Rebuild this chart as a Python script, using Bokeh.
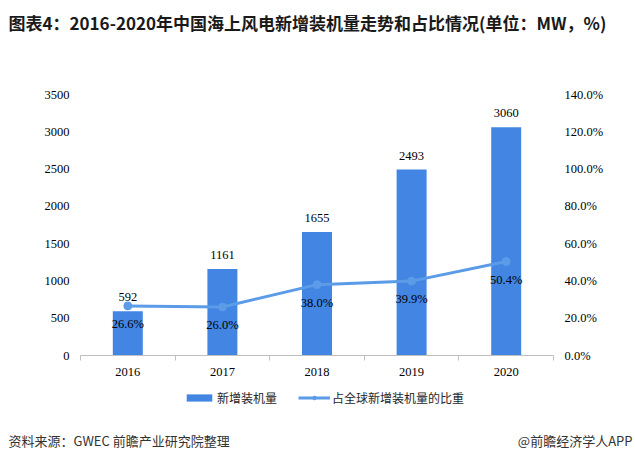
from bokeh.plotting import figure
from bokeh.models import (Range1d, LinearAxis, FixedTicker, NumeralTickFormatter,
                          Legend, LegendItem, ColumnDataSource, Label)
from bokeh.embed import file_html
from bokeh.resources import INLINE
from bokeh.core.properties import value

# ---- data ----
years = ["2016", "2017", "2018", "2019", "2020"]
new_capacity = [592, 1161, 1655, 2493, 3060]          # MW
global_share = [0.266, 0.260, 0.380, 0.399, 0.504]    # share of global new capacity
left_ticks = [0, 500, 1000, 1500, 2000, 2500, 3000, 3500]
right_ticks = [0.0, 0.2, 0.4, 0.6, 0.8, 1.0, 1.2, 1.4]

title_text = "图表4：2016-2020年中国海上风电新增装机量走势和占比情况(单位：MW，%)"
source_text = "资料来源：GWEC 前瞻产业研究院整理"
brand_text = "@前瞻经济学人APP"
bar_name = "新增装机量"
line_name = "占全球新增装机量的比重"

BAR_COLOR = "#4285E2"
LINE_COLOR = "#5B9BE8"
SERIF = "Liberation Serif"
CJK = "Noto Sans CJK SC"

# ---- geometry (pixels) : the frame fills the canvas, the plotting box sits inside ----
W, H = 635, 461
BOX_L, BOX_R, BOX_T, BOX_B = 80, 553, 94, 355
n = len(years)
ymax, pmax = left_ticks[-1], right_ticks[-1]


def span(lo_px, hi_px, a, b, total):
    per = (b - a) / (hi_px - lo_px)
    return Range1d(a - lo_px * per, b + (total - hi_px) * per)


xr = span(BOX_L, BOX_R, 0, n, W)
yr = span(H - BOX_B, H - BOX_T, 0, ymax, H)
pr = span(H - BOX_B, H - BOX_T, 0, pmax, H)

xpos = [i + 0.5 for i in range(n)]
src = ColumnDataSource(dict(
    x=xpos, cap=new_capacity, share=global_share,
    cap_lbl=[str(v) for v in new_capacity],
    share_lbl=["%.1f%%" % (v * 100) for v in global_share],
))

p = figure(width=W, height=H, output_backend="svg", toolbar_location=None,
           x_range=xr, y_range=yr, min_border=0,
           y_axis_location=None, x_axis_location=None)
p.outline_line_color = None
p.background_fill_color = "white"
p.border_fill_color = "white"
p.grid.visible = False
p.extra_y_ranges = {"pct": pr}

# bottom axis at y=0: labels at centres, small ticks at category boundaries
xa = LinearAxis(ticker=FixedTicker(ticks=xpos, minor_ticks=list(range(n + 1))),
                major_label_overrides={x: y for x, y in zip(xpos, years)},
                fixed_location=0, bounds=(0, n))
xa.axis_line_color = "#BFBFBF"
xa.major_tick_line_color = None
xa.major_tick_in = 0
xa.major_tick_out = 0
xa.minor_tick_line_color = "#BFBFBF"
xa.minor_tick_in = 0
xa.minor_tick_out = 5
xa.major_label_standoff = 7
xa.major_label_text_font = SERIF
xa.major_label_text_font_size = "12.5px"
xa.major_label_text_color = "#000000"
p.add_layout(xa, "below")

ya = LinearAxis(ticker=FixedTicker(ticks=left_ticks), fixed_location=0)
ya.axis_line_color = None
ya.major_tick_line_color = None
ya.major_tick_in = 0
ya.major_tick_out = 0
ya.minor_tick_line_color = None
ya.major_label_standoff = 11
ya.major_label_text_font = SERIF
ya.major_label_text_font_size = "12.5px"
ya.major_label_text_color = "#000000"
p.add_layout(ya, "left")

ra = LinearAxis(y_range_name="pct", ticker=FixedTicker(ticks=right_ticks),
                formatter=NumeralTickFormatter(format="0.0%"), fixed_location=n)
ra.axis_line_color = None
ra.major_tick_line_color = None
ra.major_tick_in = 0
ra.major_tick_out = 0
ra.minor_tick_line_color = None
ra.major_label_standoff = 11
ra.major_label_text_font = SERIF
ra.major_label_text_font_size = "12.5px"
ra.major_label_text_color = "#000000"
p.add_layout(ra, "right")

bars = p.vbar(x="x", top="cap", width=0.317, source=src, fill_color=BAR_COLOR,
              line_color=None)
ln = p.line(x="x", y="share", source=src, y_range_name="pct", line_color=LINE_COLOR,
            line_width=3)
pts = p.scatter(x="x", y="share", source=src, y_range_name="pct", size=8,
                fill_color=LINE_COLOR, line_color=LINE_COLOR)

p.text(x="x", y="cap", text="cap_lbl", source=src, y_offset=-14,
       text_align="center", text_baseline="middle", text_font=value(SERIF),
       text_font_size="12.5px", text_color="#000000")
p.text(x="x", y="share", text="share_lbl", source=src, y_range_name="pct", y_offset=18,
       text_align="center", text_baseline="middle", text_font=value(SERIF),
       text_font_size="12.5px", text_color="#000000")

legend = Legend(items=[LegendItem(label=bar_name, renderers=[bars]),
                       LegendItem(label=line_name, renderers=[ln, pts])],
                orientation="horizontal", location=(183, H - 406),
                glyph_width=32, glyph_height=9, label_height=14,
                label_standoff=2, spacing=21, padding=0, margin=0,
                border_line_color=None, background_fill_alpha=0,
                label_text_font=CJK, label_text_font_size="12px",
                label_text_color="#262626")
p.add_layout(legend, "center")

p.add_layout(Label(x=8, y=H - 22, x_units="screen", y_units="screen", text=title_text,
                   text_font=CJK, text_font_style="bold", text_font_size="17px",
                   text_color="#1a1a1a", text_baseline="middle", text_align="left"))
p.add_layout(Label(x=8, y=H - 440, x_units="screen", y_units="screen", text=source_text,
                   text_font=CJK, text_font_size="13px", text_color="#333333",
                   text_baseline="middle", text_align="left"))
p.add_layout(Label(x=632, y=H - 440, x_units="screen", y_units="screen", text=brand_text,
                   text_font=CJK, text_font_size="13px", text_color="#333333",
                   text_baseline="middle", text_align="right"))

open("out.html", "w").write(file_html(p, INLINE))
